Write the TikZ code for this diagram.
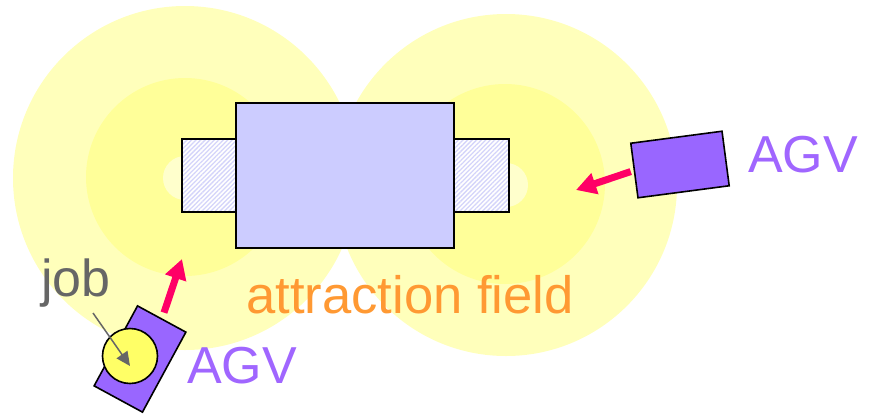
\documentclass[tikz,border=0pt]{standalone}
\usepackage{fontspec}
\setmainfont{Liberation Sans}
\usetikzlibrary{arrows.meta,patterns.meta}
\definecolor{fieldout}{HTML}{FFFFBB}
\definecolor{fieldmid}{HTML}{FFFF99}
\definecolor{fieldin}{HTML}{FFFFCC}
\definecolor{machine}{HTML}{CCCCFF}
\definecolor{hatch}{HTML}{D4D4FA}
\definecolor{agvfill}{HTML}{9966FF}
\definecolor{agvtext}{HTML}{A066FF}
\definecolor{fieldtext}{HTML}{FF9933}
\definecolor{pinkarrow}{HTML}{FF0066}
\definecolor{jobgray}{HTML}{666666}
\definecolor{jobfill}{HTML}{FFFF66}
\tikzset{
  bigtext/.style={inner sep=0pt, anchor=base west, font=\fontsize{52}{60}\selectfont},
  agvbox/.style={draw=black, line width=1.6pt, fill=agvfill, inner sep=0pt},
  pushar/.style={draw=pinkarrow, line width=7pt, -{Triangle[length=20pt,width=21pt]}},
  grayar/.style={draw=jobgray, line width=1.5pt, -{Triangle[length=14pt,width=13pt]}},
  sidebox/.style={draw=black, line width=1.8pt},
  hatchfill/.style={pattern={Lines[angle=45,distance=3.2pt,line width=1.3pt]}, pattern color=hatch},
}
\begin{document}
\begin{tikzpicture}[x=1pt,y=-1pt]
\useasboundingbox (0,0) rectangle (870,413);
% attraction fields
\fill[fieldout] (185,178) circle (172pt);
\fill[fieldout] (506,185) circle (171pt);
\fill[fieldmid] (185,177) circle (99pt);
\fill[fieldmid] (505,184) circle (100pt);
\fill[fieldin] (185,178) circle (22pt);
\fill[fieldin] (506,185) circle (22pt);
% machine with side buffers
\fill[white] (182,139) rectangle (236,212);
\fill[hatchfill] (182,139) rectangle (236,212);
\draw[sidebox] (182,139) rectangle (236,212);
\fill[white] (454,139) rectangle (509,212);
\fill[hatchfill] (454,139) rectangle (509,212);
\draw[sidebox] (454,139) rectangle (509,212);
\node[draw=black, line width=1.8pt, fill=machine, minimum width=218pt, minimum height=145pt, inner sep=0pt] (machine) at (345,175.5) {};
% right AGV
\node[agvbox, minimum width=92pt, minimum height=55pt, rotate=7.5] (ragv) at (680,164.5) {};
\coordinate (rtip) at (576,190);
\draw[pushar, shorten <=3pt] (ragv.west) -- (rtip);
\node[bigtext, text=agvtext] (ragvlabel) at (748,172) {AGV};
% left AGV
\node[agvbox, minimum width=55pt, minimum height=91pt, rotate=-28.5] (lagv) at (140,359) {};
\node[draw=black, line width=1.6pt, fill=jobfill, circle, minimum size=55pt, inner sep=0pt] (job) at (130,356) {};
\coordinate (ltip) at (182,259);
\draw[pushar, shorten <=6pt] (lagv.north) -- (ltip);
\node[bigtext, text=agvtext] (lagvlabel) at (187,383) {AGV};
% job label
\node[bigtext, text=jobgray] (joblabel) at (41,296) {job};
\coordinate (jtail) at (93,313);
\coordinate (jtip) at (130,366);
\draw[grayar] (jtail) -- (jtip);
% field label
\node[bigtext, text=fieldtext, font=\fontsize{52.6}{60}\selectfont] (fieldlabel) at (246,313) {attraction field};
\end{tikzpicture}
\end{document}
